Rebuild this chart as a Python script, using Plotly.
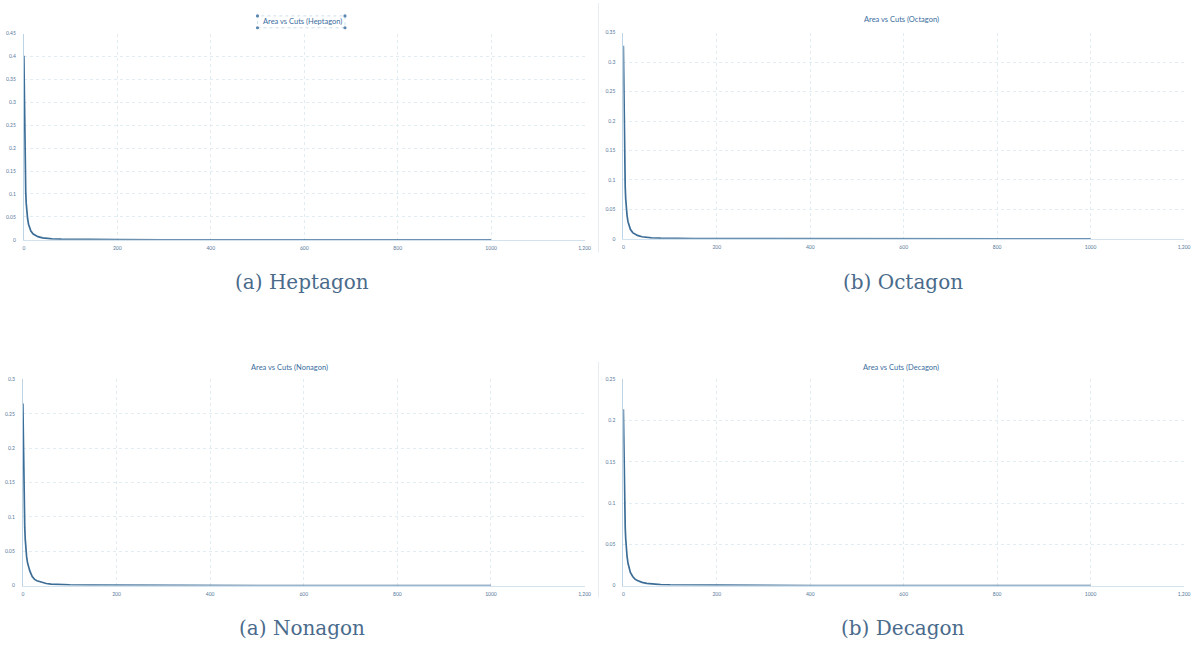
import plotly.graph_objects as go

W, H = 1202, 646

# Number of cuts at which the remaining area was sampled
cuts = [0, 1, 2, 3, 4, 5, 6, 8, 10, 12, 15, 20, 25, 30, 40, 50, 60, 80,
        100, 150, 200, 300, 400, 500, 600, 700, 800, 900, 1000]

area_heptagon = [0.402, 0.30, 0.21, 0.145, 0.105, 0.080, 0.064, 0.046, 0.034,
                 0.027, 0.019, 0.0125, 0.009, 0.0068, 0.0042, 0.0029, 0.0021,
                 0.0013, 0.0009, 0.0004, 0.00025, 0.0001, 0.00006, 0.00004,
                 0.00003, 0.00002, 0.00002, 0.00001, 0.00001]
area_octagon = [0.328, 0.25, 0.175, 0.12, 0.088, 0.068, 0.054, 0.039, 0.029,
                0.023, 0.016, 0.0105, 0.0075, 0.0057, 0.0035, 0.0024, 0.0017,
                0.0011, 0.0007, 0.0003, 0.0002, 0.0001, 0.00005, 0.00004,
                0.00003, 0.00002, 0.00002, 0.00001, 0.00001]
area_nonagon = [0.265, 0.20, 0.15, 0.11, 0.085, 0.068, 0.056, 0.042, 0.033,
                0.027, 0.021, 0.013, 0.009, 0.007, 0.0045, 0.003, 0.0022,
                0.0014, 0.001, 0.0005, 0.0003, 0.00012, 0.00007, 0.00004,
                0.00003, 0.00002, 0.00002, 0.00001, 0.00001]
area_decagon = [0.214, 0.165, 0.12, 0.09, 0.07, 0.057, 0.047, 0.035, 0.027,
                0.022, 0.016, 0.011, 0.0078, 0.006, 0.0038, 0.0026, 0.0019,
                0.0012, 0.0008, 0.0004, 0.0002, 0.0001, 0.00005, 0.00003,
                0.00002, 0.00002, 0.00001, 0.00001, 0.00001]

x_tickvals = [0, 200, 400, 600, 800, 1000, 1200]
x_ticktext = ["0", "200", "400", "600", "800", "1000", "1,200"]

chart_titles = ["Area vs Cuts (Heptagon)", "Area vs Cuts (Octagon)",
                "Area vs Cuts (Nonagon)", "Area vs Cuts (Decagon)"]
captions = ["(a) Heptagon", "(b) Octagon", "(a) Nonagon", "(b) Decagon"]
y_max = [0.45, 0.35, 0.30, 0.25]
series = [area_heptagon, area_octagon, area_nonagon, area_decagon]

# Panel geometry in pixels: (left, right, top, bottom) of each plot area
panels = [(23, 587, 31, 239), (626, 1190, 30, 238),
          (22, 587, 380, 588), (626, 1190, 380, 588)]
title_pos = [(303, 19), (906, 17), (290, 368), (905, 368)]
caption_pos = [(303, 282), (907, 282), (303, 631), (907, 631)]

LINE = "#3c6d96"
TICK = "#56799a"
GRID = "#e2ecf3"


def px(x):
    return x / W


def py(y):
    return 1 - y / H


fig = go.Figure()
annotations = []
shapes = []

for i in range(4):
    ax = "" if i == 0 else str(i + 1)
    l, r, t, b = panels[i]
    fig.add_trace(go.Scatter(
        x=cuts, y=series[i], mode="lines",
        line=dict(color=LINE, width=1.7),
        xaxis="x" + ax, yaxis="y" + ax, showlegend=False, hoverinfo="skip"))

    fig.layout["xaxis" + ax] = dict(
        domain=[px(l), px(r)], anchor="y" + ax, range=[0, 1200],
        tickvals=x_tickvals, ticktext=x_ticktext,
        tickfont=dict(size=5, color=TICK, family="Lato"),
        ticklabelstandoff=3,
        showgrid=True, gridcolor=GRID, griddash="dot", gridwidth=1,
        zeroline=False, showline=True, linecolor="#d2e2ee", linewidth=1,
        ticks="", ticklen=0, fixedrange=True)
    fig.layout["yaxis" + ax] = dict(
        domain=[py(b), py(t)], anchor="x" + ax, range=[0, y_max[i]],
        dtick=0.05, tick0=0,
        tickfont=dict(size=5, color=TICK, family="Lato"),
        ticklabelstandoff=6,
        showgrid=True, gridcolor=GRID, griddash="dot", gridwidth=1,
        zeroline=False, showline=True, linecolor="#bcd4e6", linewidth=1,
        ticks="", ticklen=0, fixedrange=True)

    tx, ty = title_pos[i]
    annotations.append(dict(
        text=chart_titles[i], x=px(tx), y=py(ty), xref="paper", yref="paper",
        showarrow=False, xanchor="center", yanchor="middle",
        font=dict(size=7.5, color="#3a6d9e", family="Lato")))

    cx, cy = caption_pos[i]
    annotations.append(dict(
        text=captions[i], x=px(cx), y=py(cy), xref="paper", yref="paper",
        showarrow=False, xanchor="center", yanchor="middle",
        font=dict(size=20, color="#4a6b8b", family="DejaVu Serif")))

# Selection frame with handles around the first chart title
sel_l, sel_r, sel_t, sel_b = 258, 346, 13, 25
shapes.append(dict(type="rect", xref="paper", yref="paper",
                   x0=px(sel_l), x1=px(sel_r), y0=py(sel_b), y1=py(sel_t),
                   line=dict(color="#c3d7e7", width=0.8, dash="dot")))
for hx in (sel_l, sel_r):
    for hy in (sel_t, sel_b):
        shapes.append(dict(type="circle", xref="paper", yref="paper",
                           x0=px(hx - 1.6), x1=px(hx + 1.6),
                           y0=py(hy + 1.6), y1=py(hy - 1.6),
                           fillcolor="#5a86b0", line=dict(width=0)))

# Faint divider between the left and right chart images
for y0, y1 in ((0, 252), (362, 600)):
    shapes.append(dict(type="line", xref="paper", yref="paper",
                       x0=px(601), x1=px(601), y0=py(y1), y1=py(y0),
                       line=dict(color="#e6eef4", width=1)))

fig.update_layout(
    width=W, height=H, margin=dict(l=0, r=0, t=0, b=0),
    paper_bgcolor="white", plot_bgcolor="white",
    annotations=annotations, shapes=shapes)

fig.write_html("out.html", config={"displayModeBar": False})
